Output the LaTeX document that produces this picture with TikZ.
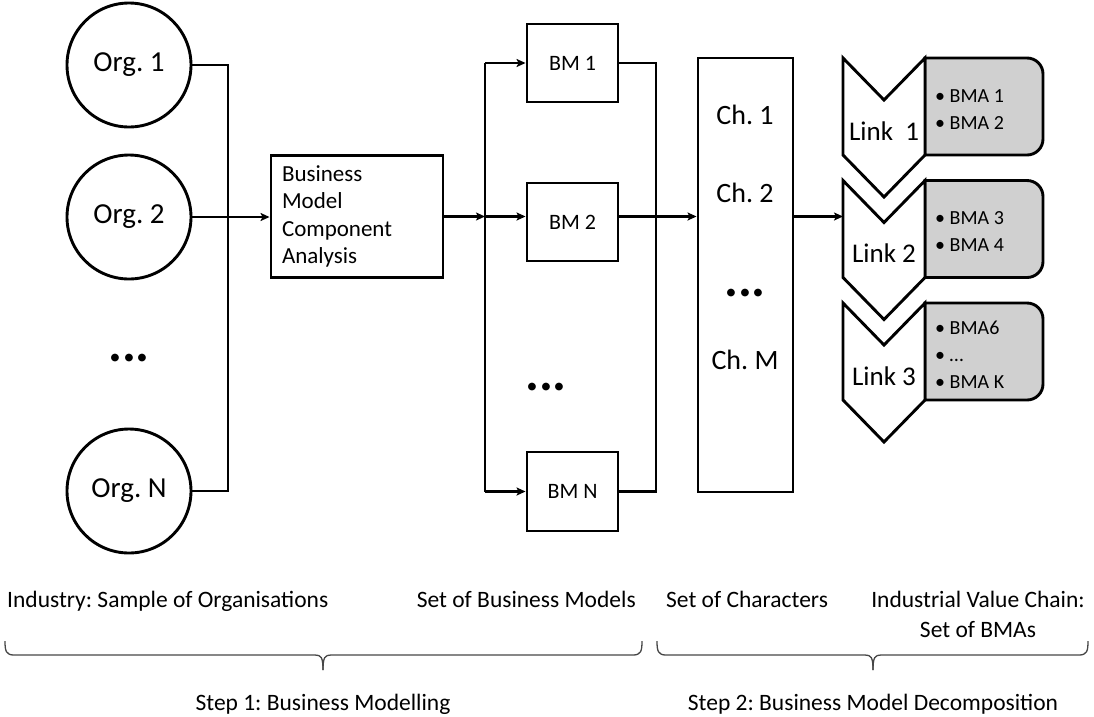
\documentclass[tikz,border=0pt]{standalone}
\usepackage{fontspec}
\setmainfont{Carlito}
\usetikzlibrary{arrows.meta}
\definecolor{boxgray}{RGB}{208,208,208}
\definecolor{bracegray}{RGB}{70,70,70}
\frenchspacing
\tikzset{
  conn/.style={line width=2.9pt},
  arr/.style={line width=2.6pt, -{Stealth[length=9pt,width=8pt,inset=2pt]}},
  org/.style={circle, draw, line width=2.9pt, minimum size=124pt, inner sep=0pt, font=\fontsize{29}{35}\selectfont},
  bmbox/.style={rectangle, draw, line width=2.9pt, minimum width=91pt, minimum height=78pt, inner sep=0pt, font=\fontsize{22}{26}\selectfont},
  bigtxt/.style={inner sep=0pt, font=\fontsize{28}{34}\selectfont},
  dots/.style={inner sep=0pt, font=\fontsize{52}{56}\selectfont\bfseries},
  linktxt/.style={inner sep=0pt, font=\fontsize{27}{32}\selectfont},
  bmatxt/.style={inner sep=0pt, anchor=west, align=left, font=\fontsize{20}{27}\selectfont},
  lbl/.style={inner sep=0pt, font=\fontsize{23.5}{30}\selectfont},
  brace/.style={line width=1.3pt, draw=bracegray},
  grey/.style={line width=2.9pt, fill=boxgray},
  chev/.pic={\draw[line width=2.9pt, fill=white, line join=miter] (0,0) -- (41,42) -- (82,0) -- (82,97) -- (41,139) -- (0,97) -- cycle;}
}
\begin{document}
\begin{tikzpicture}[x=1pt,y=-1pt]
\useasboundingbox (0,0) rectangle (1094,716);

% organisations
\node[org] (o1) at (129,65) {Org. 1};
\node[org] (o2) at (129,217) {Org. 2};
\node[dots, anchor=base] (od) at (129,361) {...};
\node[org] (oN) at (129,491) {Org. N};

% analysis box
\node[draw, rectangle, line width=2.9pt, minimum width=172pt, minimum height=113pt,
      text width=150pt, align=left, inner sep=10pt, font=\fontsize{23}{27.5}\selectfont]
      (bc) at (357,216.5) {Business\\Model\\Component\\Analysis};

% business models
\node[bmbox] (bm1) at (572.5,63) {BM 1};
\node[bmbox] (bm2) at (572.5,222) {BM 2};
\node[dots, anchor=base] (bmd) at (546,390) {...};
\node[bmbox, minimum height=79pt] (bmN) at (572.5,491.5) {BM N};

% characters
\node[draw, rectangle, line width=2.9pt, minimum width=95pt, minimum height=434pt] (ch) at (745.5,275) {};
\node[bigtxt] (ch1) at (745,115) {Ch. 1};
\node[bigtxt] (ch2) at (745,193) {Ch. 2};
\node[dots, anchor=base] (chd) at (745,296) {...};
\node[bigtxt] (chM) at (745,360) {Ch. M};

% connectors left
\coordinate (obus) at (228,300);
\draw[conn] (o1.east) -| (obus) |- (oN.east);
\draw[arr] (o2.east) -- (bc.west |- o2.east);

\coordinate (lbus) at (485,300);
\draw[arr] (bc.east) -- (lbus |- bc.east);
\draw[conn] (lbus |- bm1.west) -- (lbus |- bmN.west);
\draw[arr] (lbus |- bm1.west) -- (bm1.west);
\draw[arr] (lbus |- bc.east) -- (bm2.west |- bc.east);
\draw[arr] (lbus |- bmN.west) -- (bmN.west);

\coordinate (rbus) at (656,300);
\draw[conn] (bm1.east) -| (rbus) |- (bmN.east);
\draw[arr] (bm2.east |- bc.east) -- (ch.west |- bc.east);

% value chain
\draw[grey] (925,58) {[rounded corners=16pt] -- (1043,58) -- (1043,155)} -- (925,155) -- cycle;
\draw[grey] (925,180.5) {[rounded corners=16pt] -- (1043,180.5) -- (1043,277.5)} -- (925,277.5) -- cycle;
\draw[grey] (925,303) {[rounded corners=16pt] -- (1043,303) -- (1043,400)} -- (925,400) -- cycle;
\pic at (843,58) {chev};
\pic at (843,180.5) {chev};
\pic at (843,303) {chev};

\node[linktxt] (lk1) at (884,131) {Link\ \ 1};
\node[linktxt] (lk2) at (884,253.5) {Link 2};
\node[linktxt] (lk3) at (884,376) {Link 3};

\node[bmatxt] (a1) at (935,109.5) {• BMA 1\\• BMA 2};
\node[bmatxt] (a2) at (935,232) {• BMA 3\\• BMA 4};
\node[bmatxt] (a3) at (935,354.5) {• BMA6\\• …\\• BMA K};

\coordinate (l2w) at (843,216.5);
\draw[arr] (ch.east |- l2w) -- (l2w);

% labels
\node[lbl, anchor=base west] (t1) at (7,607) {Industry: Sample of Organisations};
\node[lbl, anchor=base east] (t2) at (636,607) {Set of Business Models};
\node[lbl, anchor=base west] (t3) at (666,607) {Set of Characters};
\node[lbl, align=center, anchor=base] (t4) at (978,637) {Industrial Value Chain:\\Set of BMAs};

% braces
\draw[brace] (5,641) .. controls (5,651) and (6,655) .. (14,655) -- (315,655) .. controls (321,655) and (323,657) .. (323,670);
\draw[brace] (642,641) .. controls (642,651) and (641,655) .. (633,655) -- (331,655) .. controls (325,655) and (323,657) .. (323,670);
\draw[brace] (657,641) .. controls (657,651) and (658,655) .. (666,655) -- (865,655) .. controls (871,655) and (873,657) .. (873,670);
\draw[brace] (1088,641) .. controls (1088,651) and (1087,655) .. (1079,655) -- (881,655) .. controls (875,655) and (873,657) .. (873,670);

\node[lbl, anchor=base] (s1) at (323,710) {Step 1: Business Modelling};
\node[lbl, anchor=base] (s2) at (873,710) {Step 2: Business Model Decomposition};
\end{tikzpicture}
\end{document}
